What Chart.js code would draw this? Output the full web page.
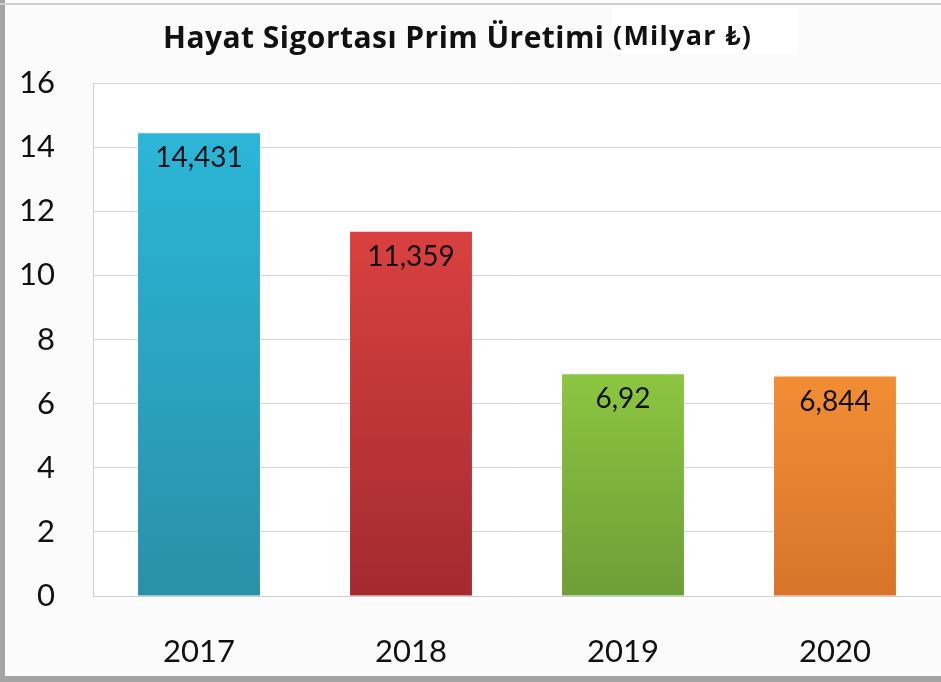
<!DOCTYPE html>
<html>
<head>
<meta charset="utf-8">
<script src="https://cdn.jsdelivr.net/npm/chart.js@4"></script>
<style>
  html, body { margin: 0; padding: 0; background: #fbfbfb; }
  #wrap { width: 941px; height: 682px; }
</style>
</head>
<body>
<div id="wrap"><canvas id="barChart" width="941" height="682"></canvas></div>
<script>
// Chart data
const years = ['2017', '2018', '2019', '2020'];
const premiums = [14.431, 11.359, 6.92, 6.844];
const valueLabels = ['14,431', '11,359', '6,92', '6,844'];
const barTop = ['#2bb6d8', '#d9413f', '#8cc640', '#f28d35'];
const barBottom = ['#2a90a8', '#a32a30', '#6e9e38', '#d8742a'];
const titleMain = 'Hayat Sigortası Prim Üretimi';
const titleUnit = '(Milyar ₺)';

const FONT = 'Lato, "Open Sans", sans-serif';
const TITLE_FONT = '"Open Sans", Lato, sans-serif';

// draw text stretched (or squeezed) to a given width with letter spacing
function fitText(ctx, text, x, y, width) {
    ctx.letterSpacing = '0px';
    const w = ctx.measureText(text).width;
    const sp = (width - w) / Math.max(1, text.length - 1);
    ctx.letterSpacing = sp.toFixed(2) + 'px';
    ctx.fillText(text, x, y);
    ctx.letterSpacing = '0px';
}

// frame, plot background, title and value labels
const framePlugin = {
    id: 'frame',
    beforeDraw(chart) {
        const ctx = chart.ctx;
        const a = chart.chartArea;
        ctx.save();
        ctx.fillStyle = '#fbfbfb';
        ctx.fillRect(0, 0, chart.width, chart.height);
        ctx.fillStyle = '#ffffff';
        ctx.fillRect(a.left, a.top, a.right - a.left, a.bottom - a.top);
        // outer grey frame
        ctx.fillStyle = '#a4a4a4';
        ctx.fillRect(0, 0, 5, chart.height);
        ctx.fillRect(0, chart.height - 6, chart.width, 6);
        ctx.fillStyle = '#d0d0d0';
        ctx.fillRect(0, 3, chart.width, 2);
        // title
        ctx.fillStyle = '#ffffff';
        ctx.fillRect(612, 8, 186, 46);
        ctx.fillStyle = '#111111';
        ctx.textBaseline = 'alphabetic';
        ctx.font = 'bold 30px ' + TITLE_FONT;
        fitText(ctx, titleMain, 163, 48, 441);
        ctx.font = 'bold 27px ' + TITLE_FONT;
        fitText(ctx, titleUnit, 613, 45, 138);
        ctx.restore();
    },
    afterDatasetsDraw(chart) {
        const ctx = chart.ctx;
        const meta = chart.getDatasetMeta(0);
        ctx.save();
        ctx.fillStyle = '#111111';
        ctx.font = '28px ' + FONT;
        ctx.textAlign = 'center';
        ctx.textBaseline = 'alphabetic';
        meta.data.forEach((bar, i) => {
            ctx.fillText(valueLabels[i], bar.x, bar.y + 34);
        });
        ctx.restore();
    }
};

const ctxBar = document.getElementById('barChart').getContext('2d');
const barChart = new Chart(ctxBar, {
    type: 'bar',
    data: {
        labels: years,
        datasets: [{
            data: premiums,
            backgroundColor: function (context) {
                const chart = context.chart;
                const i = context.dataIndex;
                if (!chart.chartArea || !chart.scales.y) return barTop[i];
                const y = chart.scales.y;
                const g = chart.ctx.createLinearGradient(0, y.getPixelForValue(premiums[i]), 0, y.getPixelForValue(0));
                g.addColorStop(0, barTop[i]);
                g.addColorStop(1, barBottom[i]);
                return g;
            },
            borderWidth: 0,
            categoryPercentage: 1,
            barPercentage: 0.575
        }]
    },
    options: {
        responsive: false,
        animation: false,
        layout: { padding: { top: 83, right: 0, left: 0, bottom: 0 } },
        plugins: {
            legend: { display: false },
            tooltip: { enabled: false }
        },
        scales: {
            x: {
                grid: { display: false, drawTicks: false },
                border: { color: '#cfcfcf', width: 1 },
                ticks: {
                    color: '#111111',
                    font: { family: FONT, size: 31 },
                    padding: 37
                },
                afterFit(scale) { scale.height = 86; }
            },
            y: {
                min: 0,
                max: 16,
                grid: { color: '#dcd6d6', drawTicks: false },
                border: { color: '#cfcfcf', width: 1 },
                ticks: {
                    stepSize: 2,
                    color: '#111111',
                    font: { family: FONT, size: 31 },
                    padding: 38
                },
                afterFit(scale) { scale.width = 93; }
            }
        }
    },
    plugins: [framePlugin]
});
</script>
</body>
</html>
